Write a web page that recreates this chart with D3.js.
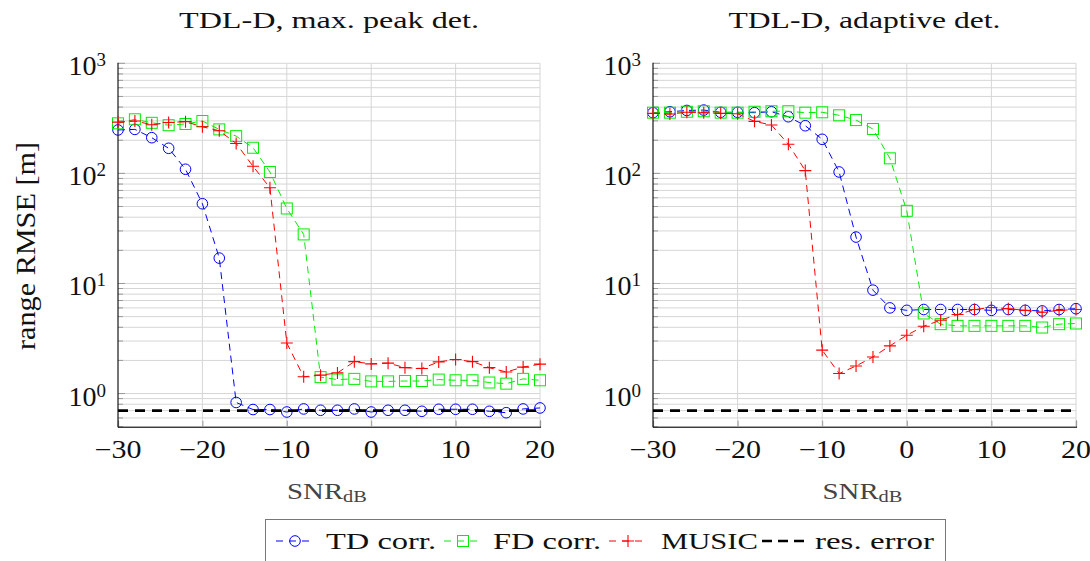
<!DOCTYPE html>
<html><head><meta charset="utf-8">
<script src="https://cdn.jsdelivr.net/npm/d3@7"></script>
<style>
body{margin:0;background:#fff}
svg{display:block}
</style>
</head><body>
<svg id="c" width="1090" height="561" font-family="'Liberation Serif', 'DejaVu Serif', serif"></svg>
<script>
// ---------------- data ----------------
const snr = [-30,-28,-26,-24,-22,-20,-18,-16,-14,-12,-10,-8,-6,-4,-2,0,2,4,6,8,10,12,14,16,18,20];
const tdMaxPeak    = [248,251,211,169,109,53,17,0.83,0.716,0.716,0.68,0.725,0.705,0.705,0.725,0.68,0.705,0.705,0.69,0.72,0.72,0.72,0.69,0.67,0.725,0.74];
const fdMaxPeak    = [285,310,288,274,281,299,251,218,171,103,48,27.9,1.41,1.34,1.36,1.29,1.29,1.30,1.30,1.34,1.32,1.32,1.26,1.23,1.36,1.32];
const musicMaxPeak = [292,299,277,290,295,265,244,187,116,74,2.88,1.42,1.47,1.54,1.95,1.86,1.89,1.72,1.69,1.94,2.04,1.95,1.72,1.57,1.74,1.85];
const tdAdaptive    = [356,363,373,376,359,359,356,363,327,271,204,103,26.4,8.7,6.0,5.7,5.8,5.8,5.8,5.8,5.7,5.8,5.7,5.63,5.8,5.9];
const fdAdaptive    = [356,356,363,367,356,356,363,367,367,356,359,337,305,253,137,45.7,5.34,4.27,4.12,4.12,4.12,4.12,4.12,3.98,4.27,4.33];
const musicAdaptive = [351,346,359,356,351,348,297,275,184,106,2.48,1.52,1.78,2.15,2.71,3.39,4.09,4.64,5.22,5.8,6.05,5.9,5.7,5.48,5.7,5.8];
const resError = 0.7;
const xTicks = [-30,-20,-10,0,10,20];
const yTickExp = [0,1,2,3];
const titles = ["TDL-D, max. peak det.","TDL-D, adaptive det."];
const seriesNames = ["TD corr.","FD corr.","MUSIC","res. error"];
const seriesColors = ["#0000ff","#00ee00","#ff0000","#000000"];
const seriesMarks = ["circle","square","plus",null];

// ---------------- layout ----------------
const svg = d3.select("#c");
const FONT = "'Liberation Serif', 'DejaVu Serif', serif";
const yTop = 63.3, yBot = 426.7;
const y = d3.scaleLog().domain([0.5,1000]).range([yBot,yTop]);
const panels = [
  {x0:118, x1:540, title:titles[0], titleW:300, data:[tdMaxPeak,fdMaxPeak,musicMaxPeak]},
  {x0:653, x1:1076, title:titles[1], titleW:272, data:[tdAdaptive,fdAdaptive,musicAdaptive]}
];
const gridCol = "#d6d6d6";
const dash = "7,5";

function txt(parent){ return parent.append("text").attr("font-family",FONT).attr("fill","#111"); }

function marker(g, type, cx, cy, color){
  if(type==="circle"){
    g.append("circle").attr("cx",cx).attr("cy",cy).attr("r",5.3)
     .attr("fill","none").attr("stroke",color).attr("stroke-width",1);
  } else if(type==="square"){
    g.append("rect").attr("x",cx-5.5).attr("y",cy-5.5).attr("width",11).attr("height",11)
     .attr("fill","none").attr("stroke",color).attr("stroke-width",1);
  } else if(type==="plus"){
    g.append("path").attr("d",`M${cx-6},${cy}H${cx+6}M${cx},${cy-6}V${cy+6}`)
     .attr("fill","none").attr("stroke",color).attr("stroke-width",1.1);
  }
}

const gridVals = [];
for(let k=-1;k<=2;k++) for(let m=1;m<=9;m++){
  const v = m*Math.pow(10,k);
  if(v>=0.5-1e-9 && v<=1000) gridVals.push(v);
}
gridVals.push(1000);

panels.forEach((p,pi)=>{
  const x = d3.scaleLinear().domain([-30,20]).range([p.x0,p.x1]);
  const g = svg.append("g");
  g.selectAll(".hg").data(gridVals).enter().append("line")
    .attr("x1",p.x0).attr("x2",p.x1).attr("y1",d=>y(d)).attr("y2",d=>y(d))
    .attr("stroke",gridCol).attr("stroke-width",1);
  g.selectAll(".vg").data(xTicks.slice(1)).enter().append("line")
    .attr("x1",d=>x(d)).attr("x2",d=>x(d)).attr("y1",yTop).attr("y2",yBot)
    .attr("stroke",gridCol).attr("stroke-width",1);
  g.selectAll(".yt").data(gridVals).enter().append("line")
    .attr("x1",p.x0).attr("x2",d=>p.x0+(Number.isInteger(Math.log10(d))?7:5)).attr("y1",d=>y(d)).attr("y2",d=>y(d))
    .attr("stroke","#9a9a9a").attr("stroke-width",1);
  const xa = g.append("g").attr("transform",`translate(0,${yBot})`)
    .call(d3.axisBottom(x).tickValues(xTicks).tickSize(-6).tickPadding(0).tickFormat(""));
  xa.select(".domain").attr("stroke","#000").attr("stroke-width",1.1);
  xa.selectAll(".tick line").attr("stroke","#9a9a9a");
  xTicks.forEach(t=>{
    txt(g).attr("transform",`translate(${x(t)},458) scale(1.2,1)`)
      .attr("text-anchor","middle").attr("font-size",25)
      .text(t<0?"\u2212"+Math.abs(t):String(t));
  });
  g.append("line").attr("x1",p.x0).attr("x2",p.x0).attr("y1",yTop-0.5).attr("y2",yBot+0.5)
    .attr("stroke","#000").attr("stroke-width",1.1);
  yTickExp.forEach(e=>{
    const t = txt(g).attr("x",p.x0-12).attr("y",y(Math.pow(10,e))+12)
      .attr("text-anchor","end").attr("font-size",28);
    t.append("tspan").text("10");
    t.append("tspan").attr("font-size",19).attr("dy",-9).text(String(e));
  });
  txt(g).attr("x",(p.x0+p.x1)/2).attr("y",28).attr("text-anchor","middle")
    .attr("font-size",23).attr("textLength",p.titleW).attr("lengthAdjust","spacingAndGlyphs")
    .text(p.title);
  const xl = txt(g).attr("transform",`translate(${(p.x0+p.x1)/2-2},499) scale(1.2,1)`)
    .attr("text-anchor","middle").attr("font-size",24).attr("fill","#444");
  xl.append("tspan").text("SNR");
  xl.append("tspan").attr("font-size",17).attr("dy",3).text("dB");

  const line = d3.line().x((d,i)=>x(snr[i])).y(d=>y(d));
  p.data.forEach((arr,si)=>{
    const sg = g.append("g");
    sg.append("path").attr("d",line(arr)).attr("fill","none")
      .attr("stroke",seriesColors[si]).attr("stroke-width",1).attr("stroke-dasharray",dash);
    arr.forEach((v,i)=>marker(sg,seriesMarks[si],x(snr[i]),y(v),seriesColors[si]));
  });
  g.append("line").attr("x1",p.x0).attr("x2",p.x1).attr("y1",y(resError)).attr("y2",y(resError))
    .attr("stroke","#000").attr("stroke-width",2.6).attr("stroke-dasharray","10,7");
});

txt(svg).attr("transform","translate(35,246) rotate(-90)")
  .attr("text-anchor","middle").attr("font-size",28)
  .attr("textLength",208).attr("lengthAdjust","spacingAndGlyphs").text("range RMSE [m]");

const lg = svg.append("g");
lg.append("rect").attr("x",265.5).attr("y",519.5).attr("width",680).attr("height",60)
  .attr("fill","#fff").attr("stroke","#777").attr("stroke-width",1);
const legItems = [
  {sx:275, tx:326, tw:110},
  {sx:443, tx:493, tw:108},
  {sx:608, tx:661, tw:97},
  {sx:762, tx:815, tw:119}
];
legItems.forEach((it,i)=>{
  const ly = 541;
  if(i<3){
    lg.append("path").attr("d",`M${it.sx},${ly}H${it.sx+40}`).attr("stroke",seriesColors[i])
      .attr("stroke-width",1).attr("stroke-dasharray","7,6").attr("stroke-dashoffset",-1);
    marker(lg,seriesMarks[i],it.sx+20,ly,seriesColors[i]);
  } else {
    lg.append("path").attr("d",`M${it.sx},${ly}H${it.sx+42}`).attr("stroke","#000")
      .attr("stroke-width",2.6).attr("stroke-dasharray","10,6");
  }
  txt(lg).attr("x",it.tx).attr("y",549).attr("font-size",23)
    .attr("textLength",it.tw).attr("lengthAdjust","spacingAndGlyphs").text(seriesNames[i]);
});
</script>
</body></html>
